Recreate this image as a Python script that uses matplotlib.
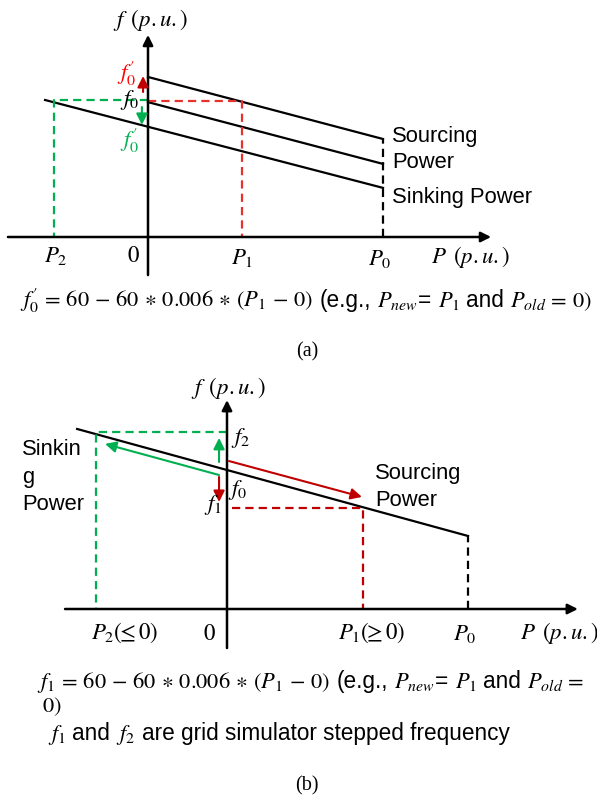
import matplotlib

matplotlib.use("Agg")
import matplotlib.pyplot as plt

plt.rcParams["mathtext.fontset"] = "stix"
SANS = "Liberation Sans"
SERIF = "Liberation Serif"

W, H = 597, 800

# ---- panel (a): P and f in units of P0 (same scale on both axes) ----
a_P0 = 1.0
a_P1 = 0.40
a_P2 = -0.40
a_hi_P = [0.0, a_P0]          # raised sourcing droop line
a_hi_f = [0.681, 0.417]
a_mid_P = [0.0, a_P0]         # sourcing power droop line
a_mid_f = [0.574, 0.311]
a_low_P = [-0.438, a_P0]      # sinking power droop line
a_low_f = [0.583, 0.209]
a_f0_src = 0.579
a_f0_snk = 0.583

# ---- panel (b) ----
b_P0 = 1.0
b_P1 = 0.564
b_P2 = -0.544
b_line_P = [-0.622, b_P0]
b_line_f = [0.747, 0.303]
b_f1 = 0.419
b_f2 = 0.734

RED = "#e8302c"
DRED = "#c00000"
GREEN = "#00b050"
DASH = (0, (3.7, 2.3))

fig = plt.figure(figsize=(W / 100, H / 100), dpi=100)
fig.patch.set_facecolor("white")


def panel_axes(top_px, bottom_px, x0_px, y0_px, scale):
    ax = fig.add_axes([0, 1 - bottom_px / H, 1, (bottom_px - top_px) / H])
    ax.set_xlim(-x0_px / scale, (W - x0_px) / scale)
    ax.set_ylim((y0_px - bottom_px) / scale, (y0_px - top_px) / scale)
    ax.axis("off")
    ax.patch.set_visible(False)
    return ax


def arrow(ax, start, end, color, lw=1.5, ms=11):
    ax.annotate(
        "",
        xy=end,
        xytext=start,
        arrowprops=dict(
            arrowstyle="-|>,head_length=0.6,head_width=0.3",
            color=color,
            lw=lw,
            mutation_scale=ms,
            shrinkA=0,
            shrinkB=0,
        ),
    )


def math(ax, x, y, s, size=16.5, color="black", ha="center"):
    ax.text(x, y, s, fontsize=size, color=color, ha=ha, va="center")


def sans(ax, x, y, s, size=15.8, ha="left"):
    ax.text(x, y, s, fontsize=size, family=SANS, ha=ha, va="center")


# ================= panel (a) =================
ax = panel_axes(0, 340, 148, 237, 235)
arrow(ax, (-0.596, 0), (1.46, 0), "black", lw=1.8, ms=10)
arrow(ax, (0, -0.162), (0, 0.86), "black", lw=1.8, ms=10)

ax.plot(a_hi_P, a_hi_f, color="black", lw=1.6)
ax.plot(a_mid_P, a_mid_f, color="black", lw=1.6)
ax.plot(a_low_P, a_low_f, color="black", lw=1.6)
ax.plot([a_P0, a_P0], [0, a_hi_f[1]], color="black", lw=1.6, ls=DASH)

ax.plot([0, a_P1, a_P1], [a_f0_src, a_f0_src, 0], color=RED, lw=1.6, ls=DASH)
ax.plot([0, a_P2, a_P2], [a_f0_snk, a_f0_snk, 0], color=GREEN, lw=1.6, ls=DASH)

arrow(ax, (-0.021, 0.617), (-0.021, 0.685), DRED)
arrow(ax, (-0.026, 0.553), (-0.026, 0.477), GREEN)

math(ax, 0.009, 0.923, r"$f\ \,(p.u.)$")
math(ax, -0.089, 0.698, r"$f_0^{\prime}$", color="#ff0000")
math(ax, -0.077, 0.583, r"$f_0$")
math(ax, -0.077, 0.413, r"$f_0^{\prime}$", color=GREEN)
math(ax, -0.391, -0.077, r"$P_2$")
math(ax, -0.06, -0.077, r"$0$")
math(ax, a_P1, -0.089, r"$P_1$")
math(ax, 0.987, -0.093, r"$P_0$")
math(ax, 1.374, -0.085, r"$P\ \,(p.u.)$")
sans(ax, 1.038, 0.426, "Sourcing")
sans(ax, 1.038, 0.319, "Power")
sans(ax, 1.038, 0.170, "Sinking Power")

# ================= panel (b) =================
bx = panel_axes(360, 660, 227, 609, 241)
arrow(bx, (-0.672, 0), (1.456, 0), "black", lw=1.8, ms=10)
arrow(bx, (0, -0.162), (0, 0.867), "black", lw=1.8, ms=10)

bx.plot(b_line_P, b_line_f, color="black", lw=1.6)
bx.plot([b_P0, b_P0], [0, b_line_f[1]], color="black", lw=1.6, ls=DASH)
bx.plot([0, b_P2, b_P2], [b_f2, b_f2, 0], color=GREEN, lw=1.6, ls=DASH)
bx.plot([0.02, b_P1, b_P1], [b_f1, b_f1, 0], color=DRED, lw=1.6, ls=DASH)

arrow(bx, (-0.033, 0.61), (-0.033, 0.71), GREEN)
arrow(bx, (-0.033, 0.556), (-0.506, 0.685), GREEN)
arrow(bx, (-0.033, 0.548), (-0.033, 0.444), DRED)
arrow(bx, (0.008, 0.614), (0.560, 0.465), DRED)

math(bx, 0.008, 0.917, r"$f\ \,(p.u.)$")
math(bx, 0.058, 0.71, r"$f_2$")
math(bx, 0.045, 0.494, r"$f_0$")
math(bx, -0.058, 0.432, r"$f_1$")
sans(bx, -0.851, 0.66, "Sinkin")
sans(bx, -0.851, 0.544, "g")
sans(bx, -0.851, 0.432, "Power")
sans(bx, 0.614, 0.564, "Sourcing")
sans(bx, 0.614, 0.452, "Power")
math(bx, -0.423, -0.1, r"$P_2(\!\!\leq 0)$")
math(bx, -0.071, -0.1, r"$0$")
math(bx, 0.60, -0.1, r"$P_1(\!\!\geq 0)$")
math(bx, 0.988, -0.1, r"$P_0$")
# the reference lets this label run off the right edge
math(bx, 1.216, -0.1, r"$P\ \,(p.u.)$", ha="left")

# ================= captions (pixel coordinates) =================
ov = fig.add_axes([0, 0, 1, 1])
ov.set_xlim(0, W)
ov.set_ylim(H, 0)
ov.axis("off")
ov.patch.set_visible(False)
renderer = fig.canvas.get_renderer()

MATH_SIZE = 16.2
SANS_SIZE = 16.3


def write_runs(x, y, runs):
    space = SANS_SIZE * 100 / 72 * 0.278
    for text, fam in runs:
        lead = len(text) - len(text.lstrip(" "))
        trail = len(text) - len(text.rstrip(" "))
        x += lead * space
        body = text.strip(" ")
        if fam == "math":
            t = ov.text(x, y, body, fontsize=MATH_SIZE, va="baseline")
        else:
            t = ov.text(x, y, body, fontsize=SANS_SIZE, family=SANS, va="baseline")
        x += t.get_window_extent(renderer).width + trail * space


eq_tail = [
    (" (e.g., ", "sans"),
    (r"$P_{new}$", "math"),
    ("= ", "sans"),
    (r"$P_1$", "math"),
    (" and ", "sans"),
]
write_runs(20, 307, [(r"$f_0^{\prime}\,=\,60\,-\,60\,\ast\,0.006\,\ast\,(P_1\,-\,0)$", "math")]
           + eq_tail + [(r"$P_{old}\,=\,0)$", "math")])
ov.text(307, 352, "(a)", fontsize=14.5, family=SERIF, ha="center", va="center")

write_runs(37, 688, [(r"$f_1\,=\,60\,-\,60\,\ast\,0.006\,\ast\,(P_1\,-\,0)$", "math")]
           + eq_tail + [(r"$P_{old}\,=$", "math")])
write_runs(42, 712, [("$0)$", "math")])
write_runs(48, 740, [(r"$f_1$", "math"), (" and ", "sans"), (r"$f_2$", "math"),
                     (" are grid simulator stepped frequency", "sans")])
ov.text(307, 786, "(b)", fontsize=14.5, family=SERIF, ha="center", va="center")

fig.savefig("out.png", dpi=100)
